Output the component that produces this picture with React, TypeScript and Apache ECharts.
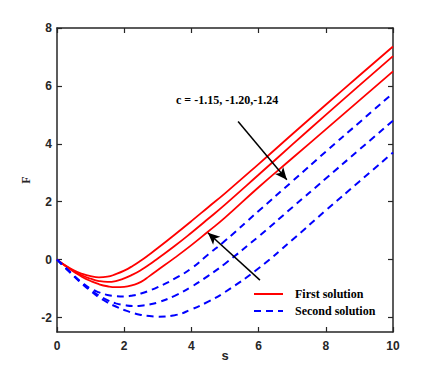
import React, { useEffect, useRef } from "react";
import * as echarts from "echarts";

const sValues = [0, 0.25, 0.5, 0.75, 1, 1.25, 1.5, 1.75, 2, 2.25, 2.5, 2.75, 3, 3.5, 4, 4.5, 5, 6, 7, 8, 9, 10];

const first115 = [0, -0.2, -0.37, -0.49, -0.57, -0.61, -0.59, -0.5, -0.38, -0.22, -0.03, 0.18, 0.4, 0.86, 1.33, 1.81, 2.29, 3.3, 4.33, 5.35, 6.36, 7.36];
const first120 = [0, -0.21, -0.4, -0.55, -0.66, -0.74, -0.77, -0.74, -0.65, -0.52, -0.36, -0.17, 0.04, 0.47, 0.93, 1.41, 1.9, 2.93, 3.97, 5.0, 6.02, 7.03];
const first124 = [0, -0.22, -0.42, -0.6, -0.74, -0.85, -0.92, -0.95, -0.94, -0.88, -0.77, -0.57, -0.36, 0.06, 0.5, 0.97, 1.45, 2.5, 3.5, 4.5, 5.5, 6.5];

const second115 = [0, -0.28, -0.55, -0.8, -1.0, -1.13, -1.22, -1.26, -1.27, -1.24, -1.17, -1.07, -0.95, -0.66, -0.3, 0.18, 0.65, 1.68, 2.7, 3.73, 4.74, 5.75];
const second120 = [0, -0.28, -0.56, -0.82, -1.04, -1.24, -1.4, -1.51, -1.57, -1.6, -1.59, -1.55, -1.48, -1.25, -0.94, -0.56, -0.14, 0.8, 1.8, 2.8, 3.8, 4.8];
const second124 = [0, -0.28, -0.57, -0.84, -1.08, -1.3, -1.48, -1.62, -1.74, -1.84, -1.91, -1.95, -1.97, -1.92, -1.72, -1.45, -1.12, -0.3, 0.68, 1.7, 2.7, 3.7];

const yTicks = [-2, 0, 2, 4, 6, 8];
const annotation = "c = -1.15, -1.20,-1.24";
const firstName = "First solution";
const secondName = "Second solution";

// arrows in data coordinates [s, F]
const arrowDown = [[5.39, 4.77], [6.84, 2.76]];
const arrowUp = [[6.04, -0.71], [4.49, 0.93]];

const zip = (ys: number[]) => sValues.map((s, i) => [s, ys[i]]);

const axisColor = "#262626";
const labelFont = { fontFamily: "Liberation Sans", fontWeight: "bold" as const, fontSize: 12, color: axisColor };

export default function App() {
  const ref = useRef<HTMLDivElement>(null);
  useEffect(() => {
    if (!ref.current) return;
    const chart = echarts.init(ref.current, undefined, { renderer: "svg" });
    const redLine = (data: number[]) => ({
      type: "line",
      name: firstName,
      data: zip(data),
      smooth: true,
      symbol: "none",
      lineStyle: { color: "#ff0000", width: 1.8, type: "solid" },
      itemStyle: { color: "#ff0000" },
      z: 3,
    });
    const blueLine = (data: number[]) => ({
      type: "line",
      name: secondName,
      data: zip(data),
      smooth: true,
      symbol: "none",
      lineStyle: { color: "#0000ff", width: 2, type: [7, 5] },
      itemStyle: { color: "#0000ff" },
      z: 3,
    });
    const s1: any = redLine(first115);
    s1.markLine = {
      silent: true,
      animation: false,
      label: { show: false },
      lineStyle: { color: "#000", width: 1.5, type: "solid" },
      data: [
        [
          { coord: arrowDown[0], symbol: "none" },
          { coord: arrowDown[1], symbol: "arrow", symbolSize: [8, 12] },
        ],
        [
          { coord: arrowUp[0], symbol: "none" },
          { coord: arrowUp[1], symbol: "arrow", symbolSize: [8, 12] },
        ],
      ],
    };
    const baseX = {
      type: "value",
      min: 0,
      max: 10,
      interval: 2,
      splitLine: { show: false },
      axisLine: { show: true, onZero: false, lineStyle: { color: axisColor, width: 1.5 } },
      axisTick: { show: true, inside: true, length: 5, lineStyle: { color: axisColor, width: 1.2 } },
    };
    const baseY = {
      type: "value",
      min: -2.5,
      max: 8,
      splitLine: { show: false },
      axisLine: { show: true, onZero: false, lineStyle: { color: axisColor, width: 1.5 } },
      axisTick: { show: true, inside: true, length: 5, customValues: yTicks, lineStyle: { color: axisColor, width: 1.2 } },
    };
    chart.setOption({
      animation: false,
      grid: { left: 57, right: 43, top: 28, bottom: 45, containLabel: false },
      xAxis: [
        {
          ...baseX,
          position: "bottom",
          name: "s",
          nameLocation: "middle",
          nameGap: 17,
          nameMoveOverlap: false,
          nameTextStyle: { fontFamily: "Liberation Sans", fontWeight: "bold", fontSize: 13, color: axisColor },
          axisLabel: { ...labelFont, margin: 8 },
        },
        { ...baseX, position: "top", axisLabel: { show: false } },
      ],
      yAxis: [
        {
          ...baseY,
          position: "left",
          name: "F",
          nameLocation: "middle",
          nameGap: 25,
          nameMoveOverlap: false,
          nameTextStyle: { fontFamily: "Liberation Serif", fontWeight: "bold", fontSize: 12, color: axisColor },
          axisLabel: { ...labelFont, margin: 5, customValues: yTicks },
        },
        { ...baseY, position: "right", axisLabel: { show: false } },
      ],
      legend: {
        data: [firstName, secondName],
        orient: "vertical",
        left: 253,
        top: 288,
        padding: 0,
        itemWidth: 29,
        itemHeight: 14,
        itemGap: 5,
        itemStyle: { opacity: 0 },
        textStyle: { fontFamily: "Liberation Serif", fontWeight: "bold", fontSize: 12, color: "#000", padding: [0, 0, 0, 7] },
        backgroundColor: "transparent",
      },
      graphic: [
        {
          type: "text",
          left: 176,
          top: 94,
          style: { text: annotation, font: 'bold 12px "Liberation Serif"', fill: "#000" },
        },
      ],
      series: [
        s1,
        redLine(first120),
        redLine(first124),
        blueLine(second115),
        blueLine(second120),
        blueLine(second124),
      ],
    });
    return () => chart.dispose();
  }, []);
  return <div ref={ref} style={{ position: "absolute", left: 0, top: 0, width: 436, height: 377 }} />;
}
